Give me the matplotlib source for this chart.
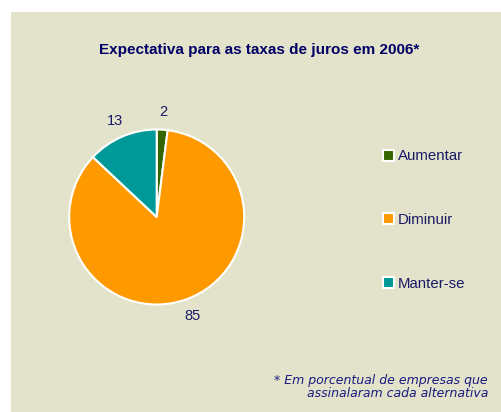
import matplotlib
matplotlib.use("Agg")
import matplotlib.pyplot as plt
from matplotlib.patches import Rectangle

categories = ["Aumentar", "Diminuir", "Manter-se"]
values = [2, 85, 13]
colors = ["#336600", "#FF9900", "#009999"]
title = "Expectativa para as taxas de juros em 2006*"
footnote = "* Em porcentual de empresas que\nassinalaram cada alternativa"

navy = "#1A1A66"
bg = "#E3E3CB"

W, H = 502, 412
fig = plt.figure(figsize=(W / 100, H / 100), dpi=100)
fig.patch.set_facecolor("white")
fig.patches.append(Rectangle((11 / W, 0), 1 - 11 / W, (H - 12) / H,
                             transform=fig.transFigure, facecolor=bg,
                             edgecolor="none", zorder=-10))

cx, cy, r = 156.7, H - 217, 87.5
ax = fig.add_axes([(cx - r) / W, (cy - r) / H, 2 * r / W, 2 * r / H])
wedges, texts = ax.pie(values, labels=[str(v) for v in values], colors=colors,
                       startangle=90, counterclock=False, labeldistance=1.2,
                       wedgeprops=dict(edgecolor="white", linewidth=1.5),
                       textprops=dict(color=navy, fontsize=10.5,
                                      family="Liberation Sans"))
for t in texts:
    t.set_ha("center")
ax.set_xlim(-1, 1)
ax.set_ylim(-1, 1)
ax.set_aspect("equal")
ax.axis("off")

fig.text(259 / W, (H - 50) / H, title, ha="center", va="center",
         fontsize=11, fontweight="bold", color="#000066",
         family="Liberation Sans")

leg = fig.legend(wedges, categories, loc="center left",
                 bbox_to_anchor=(383 / W, (H - 220) / H),
                 frameon=False, borderpad=0, borderaxespad=0,
                 handlelength=0.75, handleheight=0.75, handletextpad=0.25,
                 labelspacing=3.3,
                 prop=dict(family="Liberation Sans", size=10.8))
for t in leg.get_texts():
    t.set_color(navy)

fig.text(488 / W, (H - 387) / H, footnote, ha="right", va="center",
         multialignment="right", fontsize=9, style="italic",
         color="#1A1A80", family="DejaVu Sans", linespacing=1.0)

fig.savefig("out.png", dpi=100, facecolor=fig.get_facecolor())
